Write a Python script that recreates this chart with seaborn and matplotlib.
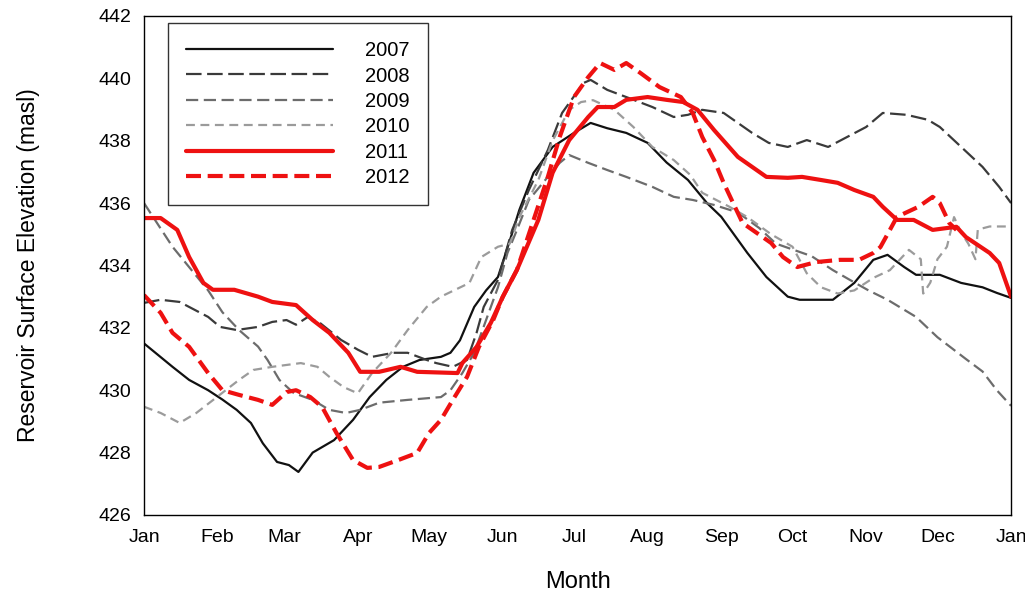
import matplotlib
matplotlib.use("Agg")
import matplotlib.pyplot as plt
import seaborn as sns
import pandas as pd

# Day of year and reservoir surface elevation (m a.s.l.) for each year
day_2007 = [0, 12, 19, 27, 33, 39, 45, 50, 56, 61, 65, 71, 80, 88, 95, 102, 109, 116, 125, 129,
            133, 139, 144, 149, 154, 158, 164, 172, 181, 188, 195, 203, 212, 220, 229, 237, 243,
            254, 262, 271, 276, 290, 299, 307, 313, 320, 325, 335, 344, 353, 359, 365]
elev_2007 = [431.5, 430.75, 430.33, 430.0, 429.7, 429.37, 428.95, 428.3, 427.7, 427.6, 427.38,
             428.0, 428.4, 429.05, 429.78, 430.33, 430.75, 430.97, 431.07, 431.2, 431.6, 432.67,
             433.2, 433.63, 434.8, 435.78, 436.97, 437.8, 438.25, 438.57, 438.4, 438.25, 437.93,
             437.3, 436.74, 436.0, 435.56, 434.4, 433.63, 433.0, 432.9, 432.9, 433.44, 434.18,
             434.34, 433.95, 433.7, 433.7, 433.44, 433.3, 433.12, 432.96]

day_2008 = [0, 7, 15, 19, 27, 32, 39, 48, 54, 60, 64, 69, 74, 83, 90, 96, 105, 111, 119, 123,
            130, 136, 140, 143, 149, 155, 162, 170, 176, 185, 188, 195, 203, 214, 223, 229, 235,
            244, 250, 256, 263, 271, 279, 288, 296, 304, 311, 321, 330, 335, 344, 353, 360, 365]
elev_2008 = [432.8, 432.9, 432.83, 432.67, 432.35, 432.03, 431.93, 432.03, 432.19, 432.25,
             432.1, 432.35, 432.16, 431.61, 431.3, 431.07, 431.2, 431.2, 430.97, 430.87, 430.75,
             430.97, 431.84, 432.67, 433.54, 435.14, 436.42, 437.7, 438.89, 439.85, 439.95,
             439.63, 439.4, 439.08, 438.76, 438.83, 438.99, 438.89, 438.57, 438.25, 437.93,
             437.8, 438.02, 437.8, 438.12, 438.44, 438.89, 438.83, 438.67, 438.44, 437.8,
             437.16, 436.52, 436.0]

day_2009 = [0, 12, 27, 33, 40, 48, 52, 57, 63, 71, 78, 85, 91, 99, 111, 125, 129, 134, 139, 144,
            149, 153, 157, 162, 170, 175, 179, 187, 195, 203, 214, 223, 231, 240, 250, 259, 266,
            281, 290, 298, 305, 313, 325, 334, 346, 353, 359, 365]
elev_2009 = [436.0, 434.6, 433.2, 432.5, 431.93, 431.4, 430.97, 430.33, 429.91, 429.69, 429.37,
             429.27, 429.37, 429.6, 429.69, 429.78, 430.0, 430.55, 431.2, 432.25, 433.3, 434.4,
             435.14, 436.1, 436.84, 437.29, 437.54, 437.29, 437.06, 436.84, 436.52, 436.2, 436.1,
             435.94, 435.7, 435.2, 434.7, 434.3, 433.85, 433.5, 433.2, 432.9, 432.35, 431.7,
             431.0, 430.6, 430.0, 429.5]

day_2010 = [0, 7, 15, 22, 31, 40, 46, 54, 66, 73, 78, 84, 90, 96, 104, 111, 119, 125, 137, 142,
            149, 154, 158, 166, 172, 179, 184, 189, 198, 206, 214, 223, 230, 235, 246, 254, 264,
            273, 279, 285, 292, 299, 307, 314, 322, 327, 328, 331, 334, 338, 341, 344, 347, 350,
            351, 356, 365]
elev_2010 = [429.47, 429.27, 428.95, 429.27, 429.8, 430.33, 430.65, 430.75, 430.87, 430.75,
             430.43, 430.1, 429.9, 430.55, 431.2, 431.93, 432.67, 433.0, 433.44, 434.27, 434.6,
             434.7, 435.55, 436.74, 438.0, 438.99, 439.24, 439.3, 438.99, 438.44, 437.8, 437.38,
             436.9, 436.33, 435.9, 435.55, 435.0, 434.6, 433.75, 433.3, 433.1, 433.2, 433.6,
             433.85, 434.5, 434.2, 433.1, 433.45, 434.2, 434.6, 435.55, 435.05, 434.7, 434.2,
             435.15, 435.25, 435.25]

day_2011 = [0, 7, 14, 19, 25, 29, 38, 48, 54, 64, 71, 78, 86, 91, 99, 108, 115, 132, 134, 140,
            146, 151, 157, 166, 172, 179, 187, 191, 198, 203, 212, 220, 227, 233, 240, 250, 256,
            262, 271, 277, 285, 292, 299, 307, 311, 317, 324, 332, 342, 346, 356, 360, 365]
elev_2011 = [435.52, 435.52, 435.14, 434.27, 433.44, 433.22, 433.22, 433.0, 432.83, 432.73,
             432.25, 431.84, 431.2, 430.59, 430.59, 430.75, 430.59, 430.55, 430.87, 431.39,
             432.16, 432.99, 433.86, 435.46, 436.97, 438.02, 438.76, 439.08, 439.08, 439.31,
             439.4, 439.31, 439.24, 438.99, 438.34, 437.48, 437.16, 436.84, 436.81, 436.84,
             436.74, 436.65, 436.42, 436.2, 435.88, 435.46, 435.46, 435.14, 435.24, 434.91,
             434.4, 434.08, 433.0]

day_2012 = [0, 7, 12, 19, 27, 33, 40, 48, 54, 60, 64, 70, 75, 81, 88, 94, 99, 107, 115, 120,
            125, 130, 136, 141, 147, 151, 157, 164, 170, 175, 181, 187, 192, 198, 203, 209, 217,
            226, 231, 235, 240, 244, 248, 252, 258, 264, 269, 275, 283, 293, 301, 307, 310, 314,
            317, 326, 332, 335, 339, 342]
elev_2012 = [433.05, 432.48, 431.84, 431.39, 430.55, 430.0, 429.85, 429.69, 429.53, 429.94,
             430.0, 429.78, 429.46, 428.63, 427.76, 427.51, 427.54, 427.76, 427.99, 428.63,
             429.05, 429.69, 430.43, 431.39, 432.25, 432.99, 433.86, 435.46, 436.84, 438.12,
             439.4, 440.04, 440.49, 440.27, 440.49, 440.17, 439.72, 439.4, 438.89, 438.12,
             437.38, 436.65, 436.0, 435.36, 435.04, 434.72, 434.27, 433.95, 434.11, 434.18,
             434.18, 434.4, 434.59, 435.14, 435.56, 435.88, 436.2, 436.0, 435.36, 435.14]

years = ["2007", "2008", "2009", "2010", "2011", "2012"]
days = [day_2007, day_2008, day_2009, day_2010, day_2011, day_2012]
elevs = [elev_2007, elev_2008, elev_2009, elev_2010, elev_2011, elev_2012]

month_starts = [0, 31, 59, 90, 120, 151, 181, 212, 243, 273, 304, 334, 365]
month_labels = ["Jan", "Feb", "Mar", "Apr", "May", "Jun", "Jul", "Aug", "Sep", "Oct",
                "Nov", "Dec", "Jan"]
y_ticks = [426, 428, 430, 432, 434, 436, 438, 440, 442]

sns.set_style("white")
plt.rcParams["font.family"] = ["Liberation Sans", "DejaVu Sans"]
plt.rcParams["text.color"] = "black"
plt.rcParams["axes.labelcolor"] = "black"
plt.rcParams["xtick.color"] = "black"
plt.rcParams["ytick.color"] = "black"

styles = {
    "2007": dict(color="#111111", lw=1.6, ls="-"),
    "2008": dict(color="#3a3a3a", lw=1.6, ls=(0, (7, 2.5))),
    "2009": dict(color="#6c6c6c", lw=1.6, ls=(0, (5.5, 2.5))),
    "2010": dict(color="#9b9b9b", lw=1.6, ls=(0, (4, 2.5))),
    "2011": dict(color="#ee1111", lw=3.0, ls="-"),
    "2012": dict(color="#ee1111", lw=3.0, ls=(0, (3.6, 1.6))),
}

fig = plt.figure(figsize=(10.25, 5.95), dpi=100)
ax = fig.add_axes([0.1405, 0.1345, 0.8459, 0.8387])

for yr, d, e in zip(years, days, elevs):
    df = pd.DataFrame({"day": d, "elev": e})
    st = styles[yr]
    sns.lineplot(data=df, x="day", y="elev", ax=ax, estimator=None, sort=False,
                 color=st["color"], linewidth=st["lw"], linestyle=st["ls"], label=yr)

ax.set_xlim(0, 365)
ax.set_ylim(426, 442)
ax.set_xticks(month_starts)
ax.set_xticklabels(month_labels)
ax.set_yticks(y_ticks)
ax.tick_params(axis="both", direction="in", length=6, width=1, colors="black",
               labelcolor="black", labelsize=14)
ax.tick_params(axis="x", pad=10)
ax.tick_params(axis="y", pad=9)
for sp in ax.spines.values():
    sp.set_visible(True)
    sp.set_color("black")
    sp.set_linewidth(1.0)

ax.set_xlabel("Month", fontsize=17, labelpad=18, color="black")
ax.set_ylabel("Reservoir Surface Elevation (masl)", fontsize=16.5, labelpad=42,
              color="black")

leg = ax.legend(loc="upper left", bbox_to_anchor=(0.0277, 0.986), borderaxespad=0,
                fontsize=14.5, handlelength=7.3, handletextpad=1.6, labelspacing=0.32,
                borderpad=0.9, frameon=True, fancybox=False, edgecolor="black")
leg.get_frame().set_linewidth(1.0)
leg.get_frame().set_facecolor("white")
for t in leg.get_texts():
    t.set_color("black")

fig.savefig("out.png", dpi=100)
